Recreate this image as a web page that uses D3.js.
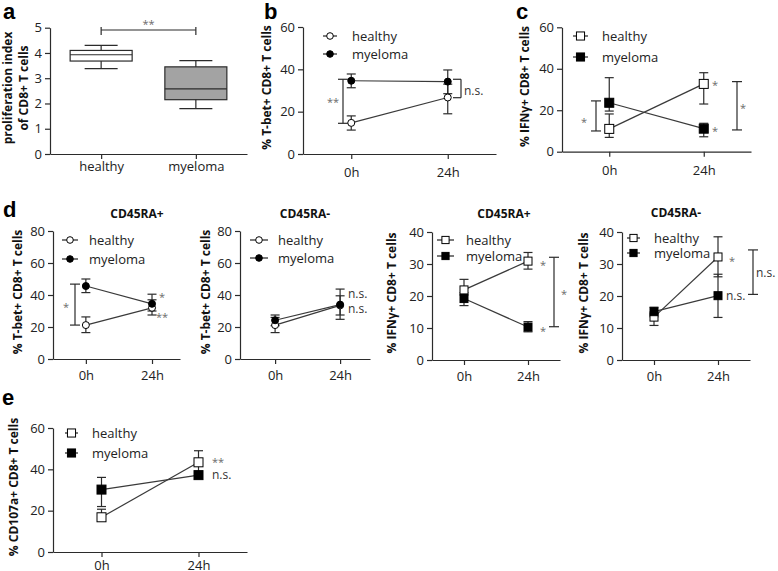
<!DOCTYPE html>
<html><head><meta charset="utf-8">
<script src="https://cdn.jsdelivr.net/npm/d3@7"></script>
<style>
body{margin:0;background:#fff;}
text{font-family:"Open Sans",Arial,sans-serif;}
</style></head>
<body>
<script>
// ---------- data ----------
const boxCategories = ["healthy", "myeloma"];
const boxMin = [3.38, 1.8];
const boxQ1 = [3.68, 2.15];
const boxMedian = [3.93, 2.58];
const boxQ3 = [4.1, 3.45];
const boxMax = [4.3, 3.7];
const aTicks = [0, 1, 2, 3, 4, 5];

const timeCats = ["0h", "24h"];
const groupNames = ["healthy", "myeloma"];

// b: T-bet+
const bHealthyMean = [14.7, 26.7], bHealthyLow = [11.3, 19], bHealthyHigh = [18, 33];
const bMyelomaMean = [34.6, 34.2], bMyelomaLow = [31.3, 28.5], bMyelomaHigh = [37.8, 39.7];
const bTicks = [0, 20, 40, 60];

// c: IFNγ+
const cHealthyMean = [11, 32.7], cHealthyLow = [6.9, 23], cHealthyHigh = [18.2, 38.1];
const cMyelomaMean = [23.6, 11.1], cMyelomaLow = [19.6, 7.2], cMyelomaHigh = [35.7, 13.7];
const cTicks = [0, 20, 40, 60];

// d1: T-bet+ CD45RA+
const d1HealthyMean = [21.2, 32], d1HealthyLow = [16.5, 27.5], d1HealthyHigh = [26.3, 37];
const d1MyelomaMean = [45.6, 34.5], d1MyelomaLow = [41.5, 30], d1MyelomaHigh = [50, 40.5];
const d1Ticks = [0, 20, 40, 60, 80];

// d2: T-bet+ CD45RA-
const d2HealthyMean = [21.2, 33.5], d2HealthyLow = [16.5, 27.5], d2HealthyHigh = [26, 39.5];
const d2MyelomaMean = [24.2, 34], d2MyelomaLow = [20.8, 24.8], d2MyelomaHigh = [27.5, 43.7];
const d2Ticks = [0, 20, 40, 60, 80];

// d3: IFNγ+ CD45RA+
const d3HealthyMean = [21.9, 30.9], d3HealthyLow = [20.3, 28.4], d3HealthyHigh = [25.2, 33.6];
const d3MyelomaMean = [19.2, 10.3], d3MyelomaLow = [17, 8.8], d3MyelomaHigh = [21, 12];
const d3Ticks = [0, 10, 20, 30, 40];

// d4: IFNγ+ CD45RA-
const d4HealthyMean = [13.4, 32.2], d4HealthyLow = [10.8, 26], d4HealthyHigh = [15, 38.5];
const d4MyelomaMean = [15.1, 20.1], d4MyelomaLow = [13.5, 13.3], d4MyelomaHigh = [16.5, 26.8];
const d4Ticks = [0, 10, 20, 30, 40];

// e: CD107a+
const eHealthyMean = [16.8, 43.4], eHealthyLow = [16.8, 38], eHealthyHigh = [20.7, 49];
const eMyelomaMean = [30.2, 37.2], eMyelomaLow = [22, 37.2], eMyelomaHigh = [36.1, 37.2];
const eTicks = [0, 20, 40, 60];

// ---------- drawing ----------
const W = 778, H = 571;
const ink = "#2b2b2b", starCol = "#6a6a6a";
const svg = d3.select("body").append("svg").attr("width", W).attr("height", H);

function styleAxis(sel) {
  sel.select(".domain").attr("stroke", ink).attr("stroke-width", 1.2);
  sel.selectAll(".tick line").attr("stroke", ink).attr("stroke-width", 1.2);
  sel.selectAll(".tick text").attr("fill", "#222").style("font-size", "13px")
     .style("font-family", "'Open Sans',Arial,sans-serif");
}

function yLabel(lines, cx, cy, size) {
  const t = svg.append("text").attr("transform", `translate(${cx},${cy}) rotate(-90)`)
    .attr("text-anchor", "middle").style("font-weight", "bold").style("font-size", size + "px").attr("fill", "#111");
  lines.forEach((l, i) => t.append("tspan").attr("x", 0).attr("dy", i === 0 ? 0 : size * 1.3).text(l));
}

function panelLetter(l, x, y) {
  svg.append("text").attr("x", x).attr("y", y).text(l)
    .style("font-family", "Arial,'Liberation Sans',sans-serif").style("font-weight", "bold")
    .style("font-size", "22px").attr("fill", "#000");
}

function marker(g, shape, filled, cx, cy, size) {
  if (shape === "circle") {
    g.append("circle").attr("cx", cx).attr("cy", cy).attr("r", size / 2)
      .attr("fill", filled ? "#000" : "#fff").attr("stroke", "#000").attr("stroke-width", 1);
  } else {
    g.append("rect").attr("x", cx - size / 2).attr("y", cy - size / 2).attr("width", size).attr("height", size)
      .attr("fill", filled ? "#000" : "#fff").attr("stroke", "#000").attr("stroke-width", 1);
  }
}

function bracket(g, x, y1, y2, capL, capR) {
  g.append("line").attr("x1", x).attr("x2", x).attr("y1", y1).attr("y2", y2).attr("stroke", ink).attr("stroke-width", 1.2);
  [y1, y2].forEach(yy => g.append("line").attr("x1", x - capL).attr("x2", x + capR).attr("y1", yy).attr("y2", yy)
    .attr("stroke", ink).attr("stroke-width", 1.2));
}

function note(g, txt, x, y, anchor) {
  const star = txt.includes("*");
  g.append("text").attr("x", x).attr("y", y).attr("dy", star ? "0.55em" : "0.35em").attr("text-anchor", anchor || "start")
    .style("font-size", star ? "11px" : "12px").attr("fill", star ? starCol : "#333").text(txt);
}

function linePanel(cfg) {
  const x = d3.scalePoint().domain(timeCats).range([cfg.x0, cfg.x1]).padding(cfg.pad || 0.5).align(cfg.align || 0.5);
  const y = d3.scaleLinear().domain([0, cfg.ymax]).range([cfg.yb, cfg.yt]);
  const g = svg.append("g");
  const ya = g.append("g").attr("transform", `translate(${cfg.x0},0)`)
    .call(d3.axisLeft(y).tickValues(cfg.ticks).tickSize(5).tickSizeOuter(0).tickPadding(3));
  styleAxis(ya);
  const xa = g.append("g").attr("transform", `translate(0,${cfg.yb})`)
    .call(d3.axisBottom(x).tickSize(5).tickSizeOuter(0).tickPadding(cfg.xpad || 7));
  styleAxis(xa);

  const series = [
    {mean: cfg.hm, lo: cfg.hl, hi: cfg.hh, filled: false},
    {mean: cfg.mm, lo: cfg.ml, hi: cfg.mh, filled: true}
  ];
  const cap = 4.5;
  series.forEach(s => {
    timeCats.forEach((c, i) => {
      const cx = x(c);
      g.append("line").attr("x1", cx).attr("x2", cx).attr("y1", y(s.lo[i])).attr("y2", y(s.hi[i]))
        .attr("stroke", ink).attr("stroke-width", 1.2);
      [s.lo[i], s.hi[i]].forEach(v => {
        if (v !== s.mean[i]) g.append("line").attr("x1", cx - cap).attr("x2", cx + cap).attr("y1", y(v)).attr("y2", y(v))
          .attr("stroke", ink).attr("stroke-width", 1.2);
      });
    });
  });
  const lineGen = d3.line().x((d, i) => x(timeCats[i])).y(d => y(d));
  series.forEach(s => g.append("path").attr("d", lineGen(s.mean)).attr("fill", "none").attr("stroke", "#3a3a3a").attr("stroke-width", 1.2));
  series.forEach(s => s.mean.forEach((v, i) => marker(g, cfg.shape, s.filled, x(timeCats[i]), y(v), cfg.msize)));

  // legend
  groupNames.forEach((nm, i) => {
    const ly = cfg.legY[i];
    g.append("line").attr("x1", cfg.legX[0]).attr("x2", cfg.legX[1]).attr("y1", ly).attr("y2", ly).attr("stroke", "#222").attr("stroke-width", 1.2);
    marker(g, cfg.shape, i === 1, (cfg.legX[0] + cfg.legX[1]) / 2, ly, cfg.msize * (cfg.shape === "circle" ? 0.95 : 0.9));
    g.append("text").attr("x", cfg.legX[2]).attr("y", ly).attr("dy", "0.35em").style("font-size", "13px").attr("fill", "#222").text(nm);
  });

  // annotations
  (cfg.brackets || []).forEach(b => {
    bracket(g, b.x, y(b.v1), y(b.v2), b.capL === undefined ? 5 : b.capL, b.capR === undefined ? 5 : b.capR);
  });
  (cfg.notes || []).forEach(n => note(g, n.t, n.x, y(n.v), n.a));

  if (cfg.title) g.append("text").attr("x", cfg.title[1]).attr("y", cfg.title[2]).attr("text-anchor", "middle")
    .style("font-weight", "bold").style("font-size", "12px").attr("fill", "#111").text(cfg.title[0]);
  yLabel(cfg.ylab, cfg.labX, (cfg.yb + cfg.yt) / 2 - 3, 12);
}

// ---------- panel a: box plot ----------
(function () {
  const x = d3.scalePoint().domain(boxCategories).range([50, 247]).padding(0.54);
  const y = d3.scaleLinear().domain([0, 5]).range([154, 27.7]);
  const g = svg.append("g");
  const ya = g.append("g").attr("transform", "translate(50,0)")
    .call(d3.axisLeft(y).tickValues(aTicks).tickFormat(d3.format("d")).tickSize(5).tickSizeOuter(0).tickPadding(3));
  styleAxis(ya);
  const xa = g.append("g").attr("transform", "translate(0,154)")
    .call(d3.axisBottom(x).tickSize(5).tickSizeOuter(0).tickPadding(3));
  styleAxis(xa);
  const bw = 62, cw = 33;
  boxCategories.forEach((c, i) => {
    const cx = x(c);
    g.append("line").attr("x1", cx).attr("x2", cx).attr("y1", y(boxMin[i])).attr("y2", y(boxMax[i])).attr("stroke", ink).attr("stroke-width", 1.2);
    [boxMin[i], boxMax[i]].forEach(v => g.append("line").attr("x1", cx - cw / 2).attr("x2", cx + cw / 2).attr("y1", y(v)).attr("y2", y(v)).attr("stroke", ink).attr("stroke-width", 1.2));
    g.append("rect").attr("x", cx - bw / 2).attr("width", bw).attr("y", y(boxQ3[i])).attr("height", y(boxQ1[i]) - y(boxQ3[i]))
      .attr("fill", i === 0 ? "#fff" : "#a3a3a3").attr("stroke", ink).attr("stroke-width", 1.2);
    g.append("line").attr("x1", cx - bw / 2).attr("x2", cx + bw / 2).attr("y1", y(boxMedian[i])).attr("y2", y(boxMedian[i])).attr("stroke", ink).attr("stroke-width", 1.2);
  });
  // significance bar
  const by = 30, x1 = x(boxCategories[0]), x2 = x(boxCategories[1]);
  g.append("line").attr("x1", x1).attr("x2", x2).attr("y1", by).attr("y2", by).attr("stroke", ink).attr("stroke-width", 1.2);
  [x1, x2].forEach(xx => g.append("line").attr("x1", xx).attr("x2", xx).attr("y1", by - 3).attr("y2", by + 5).attr("stroke", ink).attr("stroke-width", 1.2));
  g.append("text").attr("x", (x1 + x2) / 2).attr("y", 28).attr("text-anchor", "middle").style("font-size", "11px").attr("fill", starCol).text("**");
  yLabel(["proliferation index", "of CD8+ T cells"], 12, 88, 12);
  panelLetter("a", 3, 19);
})();

// ---------- panel b ----------
linePanel({x0: 303, x1: 496, yt: 27, yb: 154, ymax: 60, ticks: bTicks, shape: "circle", msize: 7,
  hm: bHealthyMean, hl: bHealthyLow, hh: bHealthyHigh, mm: bMyelomaMean, ml: bMyelomaLow, mh: bMyelomaHigh,
  legX: [323, 337, 352], legY: [36, 54], labX: 271, xpad: 9,
  ylab: ["% T-bet+ CD8+ T cells"],
  brackets: [{x: 343, v1: 14.5, v2: 35.3}, {x: 461, v1: 26.6, v2: 35.3, capL: 8, capR: 0}],
  notes: [{t: "**", x: 333, v: 25.5, a: "middle"}, {t: "n.s.", x: 464, v: 30}]});
panelLetter("b", 264, 19);

// ---------- panel c ----------
linePanel({x0: 562, x1: 751, yt: 27.3, yb: 151.7, ymax: 60, ticks: cTicks, shape: "square", msize: 9,
  hm: cHealthyMean, hl: cHealthyLow, hh: cHealthyHigh, mm: cMyelomaMean, ml: cMyelomaLow, mh: cMyelomaHigh,
  legX: [573, 588, 602], legY: [36, 57], labX: 529, xpad: 9,
  ylab: ["% IFNγ+ CD8+ T cells"],
  brackets: [{x: 596, v1: 10, v2: 24.5}, {x: 737, v1: 10.5, v2: 33.8}],
  notes: [{t: "*", x: 584, v: 15.5, a: "middle"}, {t: "*", x: 743, v: 22.3, a: "middle"},
          {t: "*", x: 715, v: 33.2, a: "middle"}, {t: "*", x: 715, v: 10.8, a: "middle"}]});
panelLetter("c", 516, 19);

// ---------- panel d ----------
panelLetter("d", 3, 217);
linePanel({x0: 53, x1: 180, yt: 231, yb: 359, ymax: 80, ticks: d1Ticks, shape: "circle", msize: 7, pad: 0.46, align: 0.54,
  hm: d1HealthyMean, hl: d1HealthyLow, hh: d1HealthyHigh, mm: d1MyelomaMean, ml: d1MyelomaLow, mh: d1MyelomaHigh,
  legX: [62, 78, 89], legY: [240, 259], labX: 22, title: ["CD45RA+", 137, 218],
  ylab: ["% T-bet+ CD8+ T cells"],
  brackets: [{x: 75, v1: 21.2, v2: 46.8}],
  notes: [{t: "*", x: 66, v: 33.8, a: "middle"}, {t: "*", x: 162, v: 39.8, a: "middle"}, {t: "**", x: 162, v: 27.3, a: "middle"}]});

linePanel({x0: 240, x1: 370, yt: 231, yb: 359, ymax: 80, ticks: d2Ticks, shape: "circle", msize: 7, align: 0.54,
  hm: d2HealthyMean, hl: d2HealthyLow, hh: d2HealthyHigh, mm: d2MyelomaMean, ml: d2MyelomaLow, mh: d2MyelomaHigh,
  legX: [250, 268, 278], legY: [240, 258], labX: 210, title: ["CD45RA-", 305, 218],
  ylab: ["% T-bet+ CD8+ T cells"],
  notes: [{t: "n.s.", x: 348, v: 40.5}, {t: "n.s.", x: 348, v: 31.5}]});

linePanel({x0: 432, x1: 560, yt: 232, yb: 360, ymax: 40, ticks: d3Ticks, shape: "square", msize: 8,
  hm: d3HealthyMean, hl: d3HealthyLow, hh: d3HealthyHigh, mm: d3MyelomaMean, ml: d3MyelomaLow, mh: d3MyelomaHigh,
  legX: [437, 454, 466], legY: [240, 256], labX: 396, title: ["CD45RA+", 504, 218],
  ylab: ["% IFNγ+ CD8+ T cells"],
  brackets: [{x: 554, v1: 10.4, v2: 32.1}],
  notes: [{t: "*", x: 543, v: 30.2, a: "middle"}, {t: "*", x: 543, v: 9.8, a: "middle"}, {t: "*", x: 564, v: 21.4, a: "middle"}]});

linePanel({x0: 622, x1: 750, yt: 232, yb: 360, ymax: 40, ticks: d4Ticks, shape: "square", msize: 8,
  hm: d4HealthyMean, hl: d4HealthyLow, hh: d4HealthyHigh, mm: d4MyelomaMean, ml: d4MyelomaLow, mh: d4MyelomaHigh,
  legX: [627, 640, 654], legY: [238, 253], labX: 588, title: ["CD45RA-", 676, 217],
  ylab: ["% IFNγ+ CD8+ T cells"],
  brackets: [{x: 753, v1: 20.5, v2: 34.4}],
  notes: [{t: "*", x: 732, v: 31.6, a: "middle"}, {t: "n.s.", x: 726, v: 20}, {t: "n.s.", x: 756, v: 27.3}]});

// ---------- panel e ----------
panelLetter("e", 2, 405);
linePanel({x0: 53, x1: 247, yt: 428, yb: 552, ymax: 60, ticks: eTicks, shape: "square", msize: 9,
  hm: eHealthyMean, hl: eHealthyLow, hh: eHealthyHigh, mm: eMyelomaMean, ml: eMyelomaLow, mh: eMyelomaHigh,
  legX: [65, 78, 92], legY: [433, 453], labX: 18, xpad: 4,
  ylab: ["% CD107a+ CD8+ T cells"],
  notes: [{t: "**", x: 212, v: 44.5}, {t: "n.s.", x: 212, v: 37.3}]});
</script>
</body></html>
